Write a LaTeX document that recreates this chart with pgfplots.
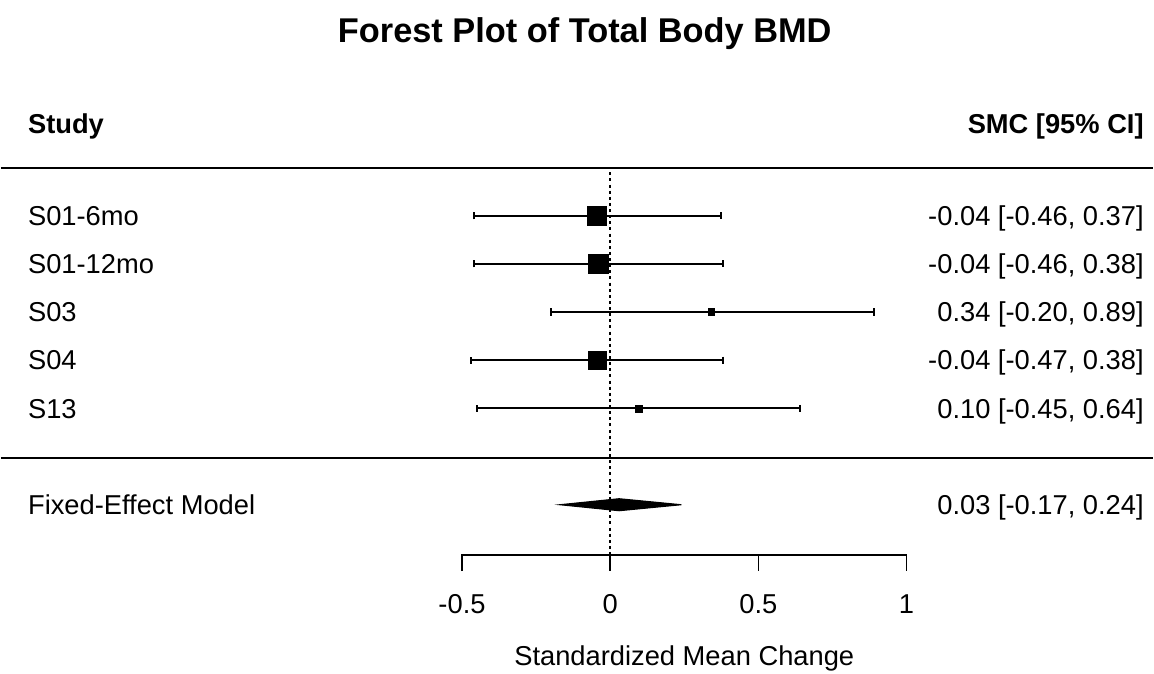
\documentclass[border=0pt]{standalone}
\usepackage{pgfplots}
\pgfplotsset{compat=1.18}
\usepackage{fontspec}
\setmainfont{Liberation Sans}
\tikzset{
  lbl/.style={font=\fontsize{20.5}{24}\selectfont, inner sep=0pt, yshift=-7.3pt},
  hdr/.style={font=\fontsize{20.5}{24}\selectfont\bfseries, inner sep=0pt, yshift=-7.3pt},
}
\pgfplotsset{
  ci/.style={black, line width=1.4pt, forget plot, mark=none,
    error bars/.cd, x dir=both, x explicit,
    error bar style={line width=1.4pt},
    error mark options={rotate=90, mark size=2.7pt, line width=1.4pt, black}},
}
\begin{document}
\begin{tikzpicture}
\begin{axis}[
  scale only axis, width=865.5pt, height=506.25pt,
  xmin=-2.056, xmax=1.832, ymin=-4.513, ymax=9.477,
  hide axis, clip=false,
]
\path (rel axis cs:0,0) rectangle (rel axis cs:1,1);
% title and headers
\node[font=\fontsize{25.8}{30}\selectfont\bfseries, anchor=base, inner sep=0pt] at (axis cs:-0.086,8.6) {Forest Plot of Total Body BMD};
\node[hdr, anchor=base west] at (axis cs:-1.965,6.907) {Study};
\node[hdr, anchor=base east] at (axis cs:1.801,6.907) {SMC [95\% CI]};
% separator lines
\addplot[black, line width=1.3pt] coordinates {(-2.056,5.995) (1.832,5.995)};
\addplot[black, line width=1.3pt] coordinates {(-2.056,-0.036) (1.832,-0.036)};
% reference line
\addplot[black, line width=1.4pt, dash pattern=on 2.3pt off 2.3pt] coordinates {(0,5.9) (0,-2.047)};
% studies: CI bars
\addplot[ci] coordinates {(-0.045,5) -= (0.414,0) += (0.418,0)};
\addplot[ci] coordinates {(-0.040,4) -= (0.420,0) += (0.420,0)};
\addplot[ci] coordinates {(0.341,3) -= (0.541,0) += (0.549,0)};
\addplot[ci] coordinates {(-0.045,2) -= (0.425,0) += (0.425,0)};
\addplot[ci] coordinates {(0.095,1) -= (0.545,0) += (0.545,0)};
% squares
\addplot[only marks, mark=square*, mark size=7.1pt, black] coordinates {(-0.045,5)};
\addplot[only marks, mark=square*, mark size=7.3pt, black] coordinates {(-0.040,4)};
\addplot[only marks, mark=square*, mark size=2.6pt, black] coordinates {(0.341,3)};
\addplot[only marks, mark=square*, mark size=6.8pt, black] coordinates {(-0.045,2)};
\addplot[only marks, mark=square*, mark size=2.6pt, black] coordinates {(0.095,1)};
% summary diamond
\addplot[fill=black, draw=black, line width=0.8pt] coordinates {(-0.17,-1) (0.03,-0.875) (0.24,-1) (0.03,-1.125)} -- cycle;
% labels
\node[lbl, anchor=base west] at (axis cs:-1.965,5) {S01-6mo};
\node[lbl, anchor=base west] at (axis cs:-1.965,4) {S01-12mo};
\node[lbl, anchor=base west] at (axis cs:-1.965,3) {S03};
\node[lbl, anchor=base west] at (axis cs:-1.965,2) {S04};
\node[lbl, anchor=base west] at (axis cs:-1.965,1) {S13};
\node[lbl, anchor=base west] at (axis cs:-1.965,-1) {Fixed-Effect Model};
\node[lbl, anchor=base east] at (axis cs:1.801,5) {-0.04 [-0.46, 0.37]};
\node[lbl, anchor=base east] at (axis cs:1.801,4) {-0.04 [-0.46, 0.38]};
\node[lbl, anchor=base east] at (axis cs:1.801,3) {0.34 [-0.20, 0.89]};
\node[lbl, anchor=base east] at (axis cs:1.801,2) {-0.04 [-0.47, 0.38]};
\node[lbl, anchor=base east] at (axis cs:1.801,1) {0.10 [-0.45, 0.64]};
\node[lbl, anchor=base east] at (axis cs:1.801,-1) {0.03 [-0.17, 0.24]};
% x axis
\addplot[black, line width=1.3pt] coordinates {(-0.5,-2.378) (-0.5,-2.047) (1,-2.047) (1,-2.378)};
\addplot[black, line width=1.3pt] coordinates {(0,-2.047) (0,-2.378)};
\addplot[black, line width=1.3pt] coordinates {(0.5,-2.047) (0.5,-2.378)};
\node[lbl, anchor=base] at (axis cs:-0.5,-3.062) {-0.5};
\node[lbl, anchor=base] at (axis cs:0,-3.062) {0};
\node[lbl, anchor=base] at (axis cs:0.5,-3.062) {0.5};
\node[lbl, anchor=base] at (axis cs:1,-3.062) {1};
\node[lbl, anchor=base] at (axis cs:0.25,-4.14) {Standardized Mean Change};
\end{axis}
\end{tikzpicture}
\end{document}
